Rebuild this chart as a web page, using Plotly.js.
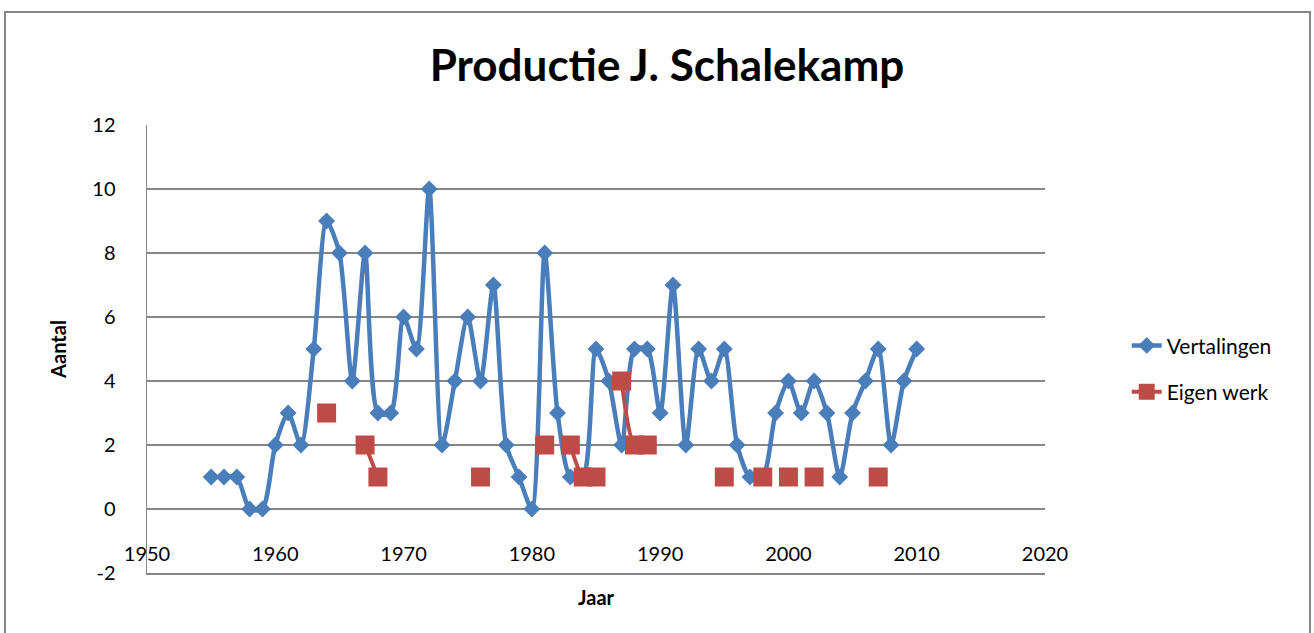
<!DOCTYPE html>
<html>
<head>
<meta charset="utf-8">
<script src="https://cdn.plot.ly/plotly-3.0.1.min.js"></script>
<style>
  html, body { margin: 0; padding: 0; overflow: hidden; background: #fff; }
  #chart { width: 1314px; height: 633px; }
  #frame { position: absolute; left: 4px; top: 11px; width: 1303px; height: 700px;
           border: 2px solid #868686; pointer-events: none; }
</style>
</head>
<body>
<div id="chart"></div>
<div id="frame"></div>
<script>
// Data
const years = [1955,1956,1957,1958,1959,1960,1961,1962,1963,1964,1965,1966,1967,1968,1969,
  1970,1971,1972,1973,1974,1975,1976,1977,1978,1979,1980,1981,1982,1983,1984,1985,1986,1987,
  1988,1989,1990,1991,1992,1993,1994,1995,1996,1997,1998,1999,2000,2001,2002,2003,2004,2005,
  2006,2007,2008,2009,2010];
const vertalingen = [1,1,1,0,0,2,3,2,5,9,8,4,8,3,3,
  6,5,10,2,4,6,4,7,2,1,0,8,3,1,1,5,4,2,
  5,5,3,7,2,5,4,5,2,1,1,3,4,3,4,3,1,3,
  4,5,2,4,5];
const eigenWerk = [null,null,null,null,null,null,null,null,null,3,null,null,2,1,null,
  null,null,null,null,null,null,1,null,null,null,null,2,null,2,1,1,null,4,
  2,2,null,null,null,null,null,1,null,null,1,null,1,null,1,null,null,null,
  null,1,null,null,null];
const yTickValues = [-2, 0, 2, 4, 6, 8, 10, 12];
const yTickLabels = ['-2', '0', '2', '4', '6', '8', '10', '12'];
const xTickValues = [1950, 1960, 1970, 1980, 1990, 2000, 2010, 2020];
const xTickLabels = ['1950', '1960', '1970', '1980', '1990', '2000', '2010', '2020'];
const seriesNames = ['Vertalingen', 'Eigen werk'];
const chartTitle = 'Productie J. Schalekamp';
const xTitle = 'Jaar';
const yTitle = 'Aantal';

const FONT = 'Lato, "Open Sans", sans-serif';
const GRID = '#868686';

const traces = [
  {
    x: years, y: vertalingen, name: seriesNames[0], type: 'scatter', mode: 'lines+markers',
    line: { color: '#4a7ebb', width: 4.5, shape: 'spline', smoothing: 0.7 },
    marker: { symbol: 'diamond', size: 13, color: '#4a7ebb' },
    legendgroup: 'a', cliponaxis: false
  },
  {
    x: years, y: eigenWerk, name: seriesNames[1], type: 'scatter', mode: 'lines+markers',
    connectgaps: false,
    line: { color: '#be4b48', width: 4, shape: 'spline', smoothing: 0.7 },
    marker: { symbol: 'square', size: 19, color: '#be4b48' },
    legendgroup: 'b', cliponaxis: false
  }
];

const layout = {
  width: 1314, height: 633,
  paper_bgcolor: '#fff', plot_bgcolor: '#fff',
  margin: { l: 147, r: 269, t: 125, b: 60 },
  font: { family: FONT, size: 20, color: '#000' },
  title: {
    text: '<b>' + chartTitle + '</b>',
    font: { family: FONT, size: 44, color: '#000' },
    x: 0.5076, xref: 'container', xanchor: 'center',
    y: 0.897, yref: 'container', yanchor: 'middle'
  },
  xaxis: {
    range: [1950, 2020], tickmode: 'array', tickvals: xTickValues, ticktext: xTickLabels,
    showgrid: false, zeroline: false,
    showline: true, linecolor: GRID, linewidth: 1.5,
    ticks: '', ticklabelstandoff: -38,
    tickfont: { family: FONT, size: 20, color: '#000' },
    title: { text: '<b>' + xTitle + '</b>', font: { family: FONT, size: 20 }, standoff: 27 },
    automargin: false
  },
  yaxis: {
    range: [-2, 12], tickmode: 'array', tickvals: yTickValues, ticktext: yTickLabels,
    showgrid: true, gridcolor: GRID, gridwidth: 1.5,
    zeroline: false,
    showline: true, linecolor: GRID, linewidth: 1.5,
    ticks: '', ticklabelstandoff: 26,
    tickfont: { family: FONT, size: 20, color: '#000' },
    title: { text: '<b>' + yTitle + '</b>', font: { family: FONT, size: 20 }, standoff: 20 },
    automargin: false
  },
  showlegend: true,
  legend: {
    x: 1.091, xanchor: 'left', y: 0.553, yanchor: 'top',
    font: { family: FONT, size: 21, color: '#000' },
    traceorder: 'grouped', tracegroupgap: 16,
    bgcolor: 'rgba(0,0,0,0)'
  }
};

Plotly.newPlot('chart', traces, layout, { displayModeBar: false, staticPlot: true });
</script>
</body>
</html>
